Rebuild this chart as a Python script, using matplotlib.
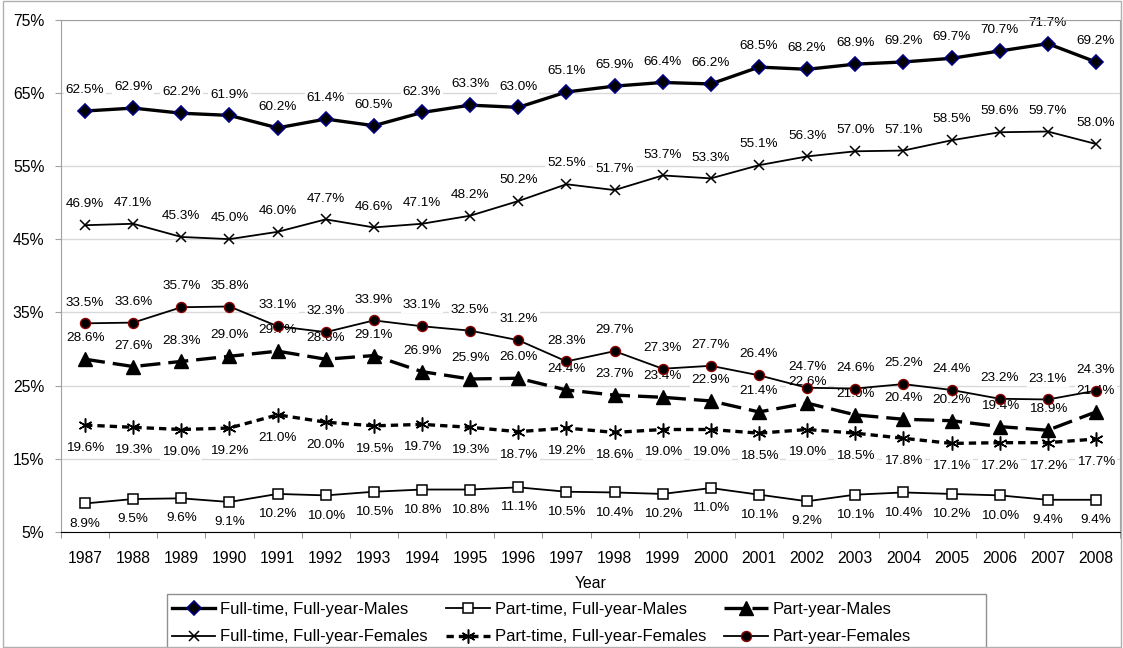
import matplotlib.pyplot as plt
from matplotlib.patches import Rectangle
import numpy as np

plt.rcParams["font.family"] = ["Liberation Sans", "DejaVu Sans"]

years = list(range(1987, 2009))
ft_males = [62.5, 62.9, 62.2, 61.9, 60.2, 61.4, 60.5, 62.3, 63.3, 63.0, 65.1,
            65.9, 66.4, 66.2, 68.5, 68.2, 68.9, 69.2, 69.7, 70.7, 71.7, 69.2]
ft_females = [46.9, 47.1, 45.3, 45.0, 46.0, 47.7, 46.6, 47.1, 48.2, 50.2, 52.5,
              51.7, 53.7, 53.3, 55.1, 56.3, 57.0, 57.1, 58.5, 59.6, 59.7, 58.0]
py_females = [33.5, 33.6, 35.7, 35.8, 33.1, 32.3, 33.9, 33.1, 32.5, 31.2, 28.3,
              29.7, 27.3, 27.7, 26.4, 24.7, 24.6, 25.2, 24.4, 23.2, 23.1, 24.3]
py_males = [28.6, 27.6, 28.3, 29.0, 29.7, 28.6, 29.1, 26.9, 25.9, 26.0, 24.4,
            23.7, 23.4, 22.9, 21.4, 22.6, 21.0, 20.4, 20.2, 19.4, 18.9, 21.4]
pt_females = [19.6, 19.3, 19.0, 19.2, 21.0, 20.0, 19.5, 19.7, 19.3, 18.7, 19.2,
              18.6, 19.0, 19.0, 18.5, 19.0, 18.5, 17.8, 17.1, 17.2, 17.2, 17.7]
pt_males = [8.9, 9.5, 9.6, 9.1, 10.2, 10.0, 10.5, 10.8, 10.8, 11.1, 10.5,
            10.4, 10.2, 11.0, 10.1, 9.2, 10.1, 10.4, 10.2, 10.0, 9.4, 9.4]

x = np.arange(len(years))
W, H = 1123, 648

fig = plt.figure(figsize=(W / 100, H / 100), dpi=100)
ax = fig.add_axes([61 / W, 1 - 532 / H, (1120 - 61) / W, (532 - 19.5) / H])

# (values, label, style kwargs, label offset in points)
series = [
    (ft_males, "Full-time, Full-year-Males",
     dict(color="black", lw=2.4, marker="D", ms=7.5, mfc="black", mec="#000080", mew=1.2), 15),
    (ft_females, "Full-time, Full-year-Females",
     dict(color="black", lw=1.3, marker="x", ms=7.5, mew=1.1), 15),
    (pt_males, "Part-time, Full-year-Males",
     dict(color="black", lw=1.3, marker="s", ms=6.5, mfc="white", mec="black", mew=1.1), -14.5),
    (pt_females, "Part-time, Full-year-Females",
     dict(color="black", lw=2.4, ls=(0, (2.2, 1.5)), marker=(6, 2, 0), ms=10, mew=1.1), -16.5),
    (py_males, "Part-year-Males",
     dict(color="black", lw=2.4, ls=(0, (6, 2.4)), marker="^", ms=9.5), 15),
    (py_females, "Part-year-Females",
     dict(color="black", lw=1.3, marker="o", ms=7.2, mfc="black", mec="#8b0000", mew=1.0), 15),
]

handles = []
for vals, name, kw, off in series:
    h, = ax.plot(x, vals, label=name, zorder=3, **kw)
    handles.append(h)
    for xi, v in zip(x, vals):
        ax.annotate(f"{v:.1f}%", (xi, v), xytext=(0, off), textcoords="offset points",
                    ha="center", va="center", fontsize=9.7, zorder=2,
                    bbox=dict(boxstyle="square,pad=0.15", fc="white", ec="none"))

ax.set_xlim(-0.5, len(years) - 0.5)
ax.set_ylim(5, 75)
ax.set_yticks(np.arange(5, 76, 10))
ax.set_yticklabels([f"{t}%" for t in range(5, 76, 10)], fontsize=11.3)
ax.set_xticks(x)
ax.set_xticklabels([str(y) for y in years], fontsize=11.3)
ax.set_xticks(np.arange(-0.5, len(years), 1), minor=True)
ax.tick_params(axis="x", which="major", length=0, pad=14)
ax.tick_params(axis="x", which="minor", length=4, direction="out", color="#808080")
ax.tick_params(axis="y", length=4, direction="out", color="#a0a0a0", pad=8)
ax.yaxis.grid(True, color="#d9d9d9", lw=1)
ax.set_axisbelow(True)
for s in ax.spines.values():
    s.set_color("#a0a0a0")
ax.spines["bottom"].set_color("black")
ax.set_xlabel("Year", fontsize=11.3, labelpad=7)

leg = fig.legend(handles, [h.get_label() for h in handles], loc="upper left",
                 bbox_to_anchor=(172 / W, 1 - 602 / H), ncol=3, fontsize=12,
                 frameon=False, handlelength=2.6, borderpad=0, borderaxespad=0,
                 labelspacing=0.75, columnspacing=1.1, handletextpad=0.3)

# legend box runs past the bottom edge in the original
fig.patches.append(Rectangle((167 / W, -0.05), (986 - 167) / W, 0.05 + 1 - 594 / H,
                             transform=fig.transFigure, fill=False, ec="#909090", lw=1))
fig.patches.append(Rectangle((2.5 / W, 0.002), 1 - 5 / W, 0.996, transform=fig.transFigure,
                             fill=False, ec="#b0b0b0", lw=1))

fig.savefig("out.png", dpi=100)
